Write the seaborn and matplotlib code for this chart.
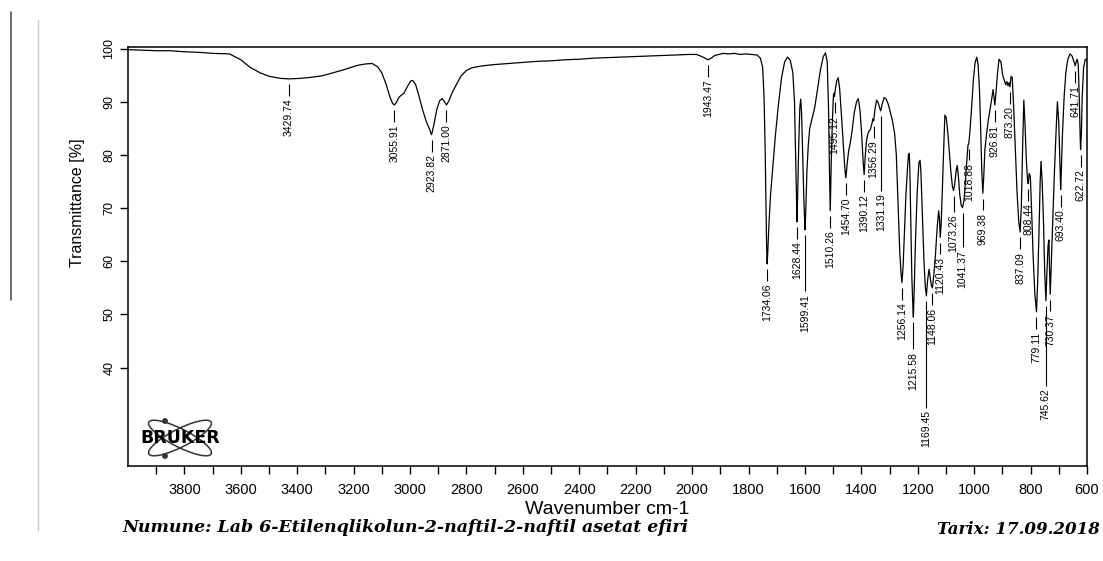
import numpy as np
import pandas as pd
import seaborn as sns
import matplotlib.pyplot as plt
from matplotlib import font_manager
from matplotlib.lines import Line2D
from matplotlib.patches import Ellipse, Circle

# IR spectrum (wavenumber cm-1, transmittance %)
wn_oh = [4000, 3950, 3900, 3850, 3800, 3750, 3700, 3640, 3600, 3568, 3530, 3500,
         3460, 3429.74, 3390, 3350, 3310, 3270, 3230, 3190, 3160, 3135]
tr_oh = [99.8, 99.7, 99.6, 99.6, 99.4, 99.3, 99.1, 99.0, 97.9, 96.5, 95.4, 94.8,
         94.4, 94.3, 94.4, 94.6, 94.9, 95.5, 96.1, 96.8, 97.1, 97.2]

wn_ch = [3115, 3100, 3085, 3072, 3062, 3055.91, 3048, 3040, 3032, 3022, 3010, 2998,
         2990, 2980, 2968, 2955, 2942, 2932, 2923.82, 2915, 2905, 2895, 2886, 2878,
         2871.00, 2862, 2850, 2836, 2820, 2800, 2780, 2750, 2720, 2700]
tr_ch = [96.6, 95.4, 93.3, 91.0, 89.7, 89.4, 89.9, 90.8, 91.2, 91.6, 92.8, 93.9,
         94.0, 93.2, 91.0, 88.4, 86.2, 85.0, 83.8, 85.8, 88.6, 90.2, 90.6, 90.0,
         89.4, 90.2, 91.8, 93.2, 94.8, 95.9, 96.4, 96.7, 96.9, 97.0]

wn_flat = [2650, 2600, 2550, 2500, 2450, 2400, 2350, 2300, 2250, 2200, 2150, 2100,
           2050, 2010, 1985, 1970, 1958, 1943.47, 1932, 1920, 1905, 1890, 1870, 1850,
           1830, 1810, 1790, 1770, 1758]
tr_flat = [97.2, 97.4, 97.6, 97.7, 97.9, 98.0, 98.2, 98.3, 98.4, 98.5, 98.6, 98.7,
           98.8, 98.9, 98.9, 98.6, 98.3, 97.9, 98.2, 98.7, 98.9, 99.1, 99.0, 99.1,
           98.9, 99.0, 98.9, 98.8, 98.2]

wn_dbl = [1750, 1745, 1741, 1738, 1736, 1734.06, 1732, 1728, 1722, 1715, 1705, 1695,
          1683, 1672, 1662, 1652, 1643, 1637, 1633, 1630, 1628.44, 1626, 1622, 1618,
          1615, 1612, 1608, 1604, 1601, 1599.41, 1597, 1593, 1588, 1583, 1575, 1565,
          1555, 1545, 1535, 1527, 1521, 1516, 1513, 1510.26, 1507, 1503, 1499, 1496.5,
          1495.12, 1492, 1487, 1482, 1477, 1470, 1463, 1458, 1454.70, 1450, 1445, 1440,
          1433, 1425, 1417, 1411, 1405, 1399, 1394, 1390.12, 1386, 1381, 1375, 1368,
          1362, 1359, 1356.29, 1352, 1346, 1340, 1335, 1331.19, 1326, 1319, 1312, 1305,
          1298]
tr_dbl = [96.5, 91.0, 81.0, 70.0, 63.0, 59.5, 61.5, 66.5, 72.5, 77.0, 83.5, 89.0,
          94.5, 97.5, 98.4, 97.8, 95.5, 90.0, 80.0, 72.0, 67.4, 72.0, 82.0, 89.0,
          90.5, 88.0, 80.0, 72.0, 67.5, 65.9, 69.5, 77.0, 82.0, 85.0, 86.8, 89.0,
          92.5, 96.0, 98.5, 99.2, 97.5, 88.0, 77.0, 69.5, 78.0, 86.0, 91.2, 91.6,
          91.0, 92.5, 94.0, 94.5, 92.5, 87.0, 81.0, 77.0, 75.7, 78.5, 80.8, 82.0,
          84.5, 88.0, 90.0, 90.6, 88.5, 84.0, 79.0, 76.3, 80.0, 83.0, 84.3, 84.8,
          86.0, 86.8, 86.4, 88.5, 90.3, 89.8, 88.8, 88.3, 89.6, 90.8, 90.5, 89.6,
          88.2]

wn_fp = [1290, 1282, 1276, 1270, 1264, 1259, 1256.14, 1252, 1247, 1242, 1237, 1233,
         1230, 1228, 1225, 1221, 1217, 1215.58, 1213, 1208, 1202, 1196, 1192, 1189,
         1184, 1178, 1173, 1169.45, 1165, 1160, 1156, 1152, 1148.06, 1143, 1137, 1131,
         1126, 1123, 1120.43, 1117, 1112, 1108, 1104, 1099]
tr_fp = [86.5, 84.0, 80.0, 71.0, 62.0, 57.5, 56.0, 59.0, 66.0, 72.5, 77.0, 80.0,
         80.3, 77.0, 68.0, 57.0, 51.0, 49.5, 54.0, 64.0, 73.0, 78.5, 79.0, 77.0,
         69.0, 60.0, 55.0, 53.5, 56.5, 58.5, 57.0, 55.5, 55.0, 57.5, 61.5, 66.5,
         69.5, 68.0, 64.5, 67.0, 75.0, 82.0, 87.5, 87.0]

wn_low = [1094, 1088, 1082, 1077, 1073.26, 1069, 1064, 1060, 1056, 1051, 1046, 1041.37,
          1036, 1031, 1026, 1022, 1018.88, 1015, 1009, 1003, 997, 991, 986, 981,
          977, 973, 969.38, 966, 962, 956, 950, 944, 938, 933, 930, 926.81,
          923, 917, 912, 905, 899, 893, 888, 884, 880, 876, 873.20, 869,
          865, 860, 854, 848, 842, 837.09, 833, 828, 824, 820, 815, 811,
          808.44, 805, 801, 796, 791, 785, 779.11, 775, 770, 766, 763, 759,
          754, 750, 745.62, 742, 738, 735, 733, 730.37, 727, 722, 716, 710,
          705, 700, 697, 695, 693.40, 691, 687, 681, 675, 668, 660, 653,
          647, 643, 641.71, 639, 635, 631, 627, 624, 622.72, 620, 617, 612,
          606, 600]
tr_low = [84.5, 80.5, 76.5, 74.0, 73.3, 74.5, 77.0, 78.0, 76.0, 72.5, 70.5, 70.1,
          71.5, 75.0, 79.0, 81.8, 82.2, 84.5, 89.0, 94.0, 97.3, 98.4, 97.0, 92.0,
          85.0, 77.0, 72.8, 76.0, 81.0, 84.0, 86.5, 88.5, 90.5, 92.3, 91.0, 89.4,
          91.5, 95.5, 98.0, 97.5, 95.0, 94.0, 93.2, 93.8, 93.0, 93.6, 92.8, 94.8,
          94.5, 89.0, 81.0, 73.0, 67.5, 65.5, 70.0, 82.0, 90.3, 86.0, 79.0, 75.5,
          74.6, 76.5, 76.0, 69.0, 61.0, 54.0, 50.5, 56.0, 66.0, 75.0, 78.8, 75.0,
          67.0, 58.0, 52.6, 58.0, 63.0, 64.0, 59.0, 53.8, 59.0, 67.0, 76.0, 84.0,
          90.0, 86.0, 80.0, 76.0, 73.5, 77.0, 84.0, 91.0, 95.5, 98.0, 99.0, 98.6,
          97.6, 97.0, 96.8, 97.4, 98.0, 97.0, 90.0, 83.0, 81.0, 84.0, 91.0, 96.5,
          98.0, 97.8]

# labelled band positions, as printed
peak_labels = [3429.74, 3055.91, 2923.82, 2871.00, 1943.47, 1734.06, 1628.44, 1599.41,
               1510.26, 1495.12, 1454.70, 1390.12, 1356.29, 1331.19, 1256.14, 1215.58,
               1169.45, 1148.06, 1120.43, 1073.26, 1041.37, 1018.88, 969.38, 926.81,
               873.20, 837.09, 808.44, 779.11, 745.62, 730.37, 693.40, 641.71, 622.72]

# longer leader lines where the printout staggers labels (in % units)
leader = {1599.41: 10.5, 1331.19: 14.0, 1169.45: 20.0, 745.62: 15.0,
          1215.58: 5.0, 1041.37: 6.5, 1073.26: 3.0}

df = pd.DataFrame({
    'wavenumber': wn_oh + wn_ch + wn_flat + wn_dbl + wn_fp + wn_low,
    'transmittance': tr_oh + tr_ch + tr_flat + tr_dbl + tr_fp + tr_low,
})

sns.set_style('ticks')
plt.rcParams['font.family'] = ['Liberation Sans', 'DejaVu Sans']
plt.rcParams['text.color'] = 'black'
plt.rcParams['axes.labelcolor'] = 'black'

names = {f.name for f in font_manager.fontManager.ttflist}
if 'Liberation Sans Narrow' in names:
    label_family, label_size = 'Liberation Sans Narrow', 9
else:
    label_family, label_size = 'Liberation Sans', 7.5

W, H = 1103, 561
fig = plt.figure(figsize=(W / 100, H / 100), dpi=100)
ax = fig.add_axes([128 / W, 95 / H, 959 / W, 419 / H])

sns.lineplot(data=df, x='wavenumber', y='transmittance', color='black',
             linewidth=0.9, estimator=None, sort=False, ax=ax)

ax.set_xlim(4000, 600)
ax.set_ylim(21.5, 100.3)
ax.set_xticks(np.arange(3800, 599, -200))
ax.set_xticks(np.arange(3900, 599, -200), minor=True)
ax.set_yticks(np.arange(40, 101, 10))
ax.tick_params(axis='x', which='both', direction='out', length=6, width=1,
               colors='black', labelsize=10.5, pad=6)
ax.tick_params(axis='y', direction='out', length=6, width=1, colors='black',
               labelsize=9, pad=3, labelrotation=90)
for lbl in ax.get_yticklabels():
    lbl.set_va('center')
for s in ax.spines.values():
    s.set_visible(True)
    s.set_color('black')
    s.set_linewidth(1.1)

ax.set_xlabel('Wavenumber cm-1', fontsize=14, labelpad=3)
ax.set_ylabel('Transmittance [%]', fontsize=11.5)
ax.yaxis.set_label_coords(-0.045, 0.628)

# peak annotations: short leader line under each band, then the value
srt = df.sort_values('wavenumber')
for p in peak_labels:
    t = np.interp(p, srt['wavenumber'], srt['transmittance'])
    L = leader.get(p, 2.2)
    ax.vlines(p, t - 1.0 - L, t - 1.0, color='black', linewidth=0.8)
    ax.text(p, t - 1.0 - L - 0.5, f'{p:.2f}', rotation=90, ha='center', va='top',
            fontsize=label_size, family=label_family)

# Bruker logo in the lower-left corner of the plot
logo = fig.add_axes([138 / W, (H - 462) / H, 84 / W, 48 / H])
logo.set_xlim(0, 84)
logo.set_ylim(0, 48)
logo.axis('off')
for ang in (27, -27):
    logo.add_patch(Ellipse((42, 24), 70, 18, angle=ang, fill=False,
                           edgecolor='#333333', linewidth=1.1))
for cy in (41, 6):
    logo.add_patch(Circle((27, cy), 2.2, color='#333333'))
logo.text(42, 24, 'BRUKER', ha='center', va='center', fontsize=12.5,
          fontweight='heavy', family='DejaVu Sans', color='black', clip_on=False)

# sample caption and date printed under the chart
fig.text(122 / W, 1 - 528 / H,
         'Numune: Lab 6-Etilenqlikolun-2-naftil-2-naftil asetat efiri',
         family='DejaVu Serif', style='italic', fontweight='bold', fontsize=12.5,
         ha='left', va='center')
fig.text(1100 / W, 1 - 530 / H, 'Tarix: 17.09.2018', family='DejaVu Serif',
         style='italic', fontweight='bold', fontsize=12, ha='right', va='center')

# scan edges visible on the left of the page
fig.add_artist(Line2D([11 / W, 11 / W], [1 - 12 / H, 1 - 300 / H],
                      transform=fig.transFigure, color='#555555', linewidth=1.2))
fig.add_artist(Line2D([38 / W, 38 / W], [1 - 20 / H, 1 - 530 / H],
                      transform=fig.transFigure, color='#c8c8c8', linewidth=1.0))

fig.savefig('out.png', dpi=100, facecolor='white')
